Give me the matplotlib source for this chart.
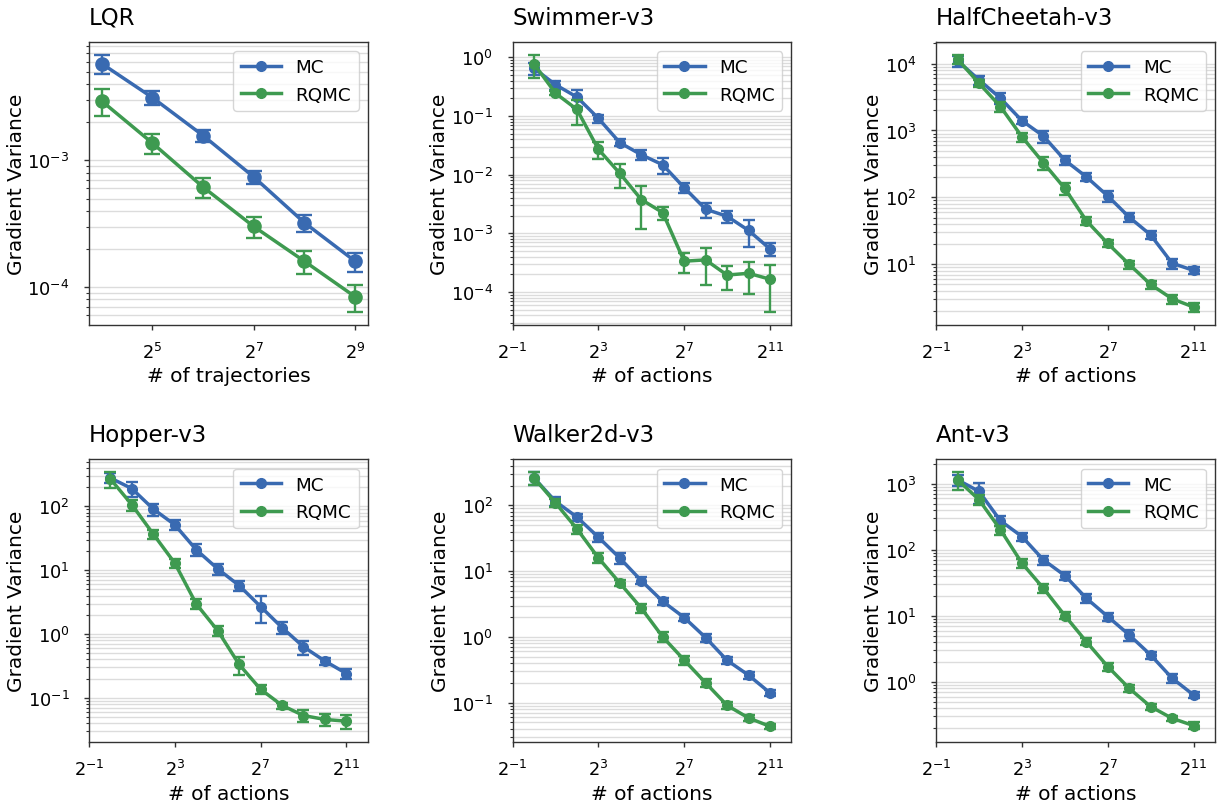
import matplotlib
matplotlib.use('Agg')
import matplotlib.pyplot as plt
from matplotlib.ticker import LogFormatterSciNotation, NullLocator, FixedLocator

plt.rcParams['axes.unicode_minus'] = False

blue = '#396ab1'
green = '#3e9a50'

# x values
lqr_x = [2 ** k for k in range(4, 10)]
act_x = [2 ** k for k in range(0, 12)]

# LQR
lqr_mc = [5.8e-3, 3.13e-3, 1.57e-3, 7.4e-4, 3.22e-4, 1.6e-4]
lqr_mc_err = [1.0e-3, 3.8e-4, 1.75e-4, 9.0e-5, 4.75e-5, 2.75e-5]
lqr_rq = [2.94e-3, 1.37e-3, 6.16e-4, 3.01e-4, 1.6e-4, 8.4e-5]
lqr_rq_err = [7.2e-4, 2.45e-4, 1.1e-4, 5.7e-5, 3.3e-5, 2.0e-5]

# Swimmer-v3
sw_mc = [0.65, 0.34, 0.21, 0.091, 0.035, 0.0218, 0.0147, 0.006, 0.00257, 0.00195, 0.00112, 5.42e-4]
sw_mc_err = [0.16, 0.06, 0.068, 0.0145, 0.0048, 0.0042, 0.0046, 0.0012, 0.00073, 0.00047, 0.00054, 1.4e-4]
sw_rq = [0.77, 0.244, 0.129, 0.027, 0.0105, 0.00376, 0.00225, 3.34e-4, 3.52e-4, 1.94e-4, 2.08e-4, 1.65e-4]
sw_rq_err = [0.33, 0.02, 0.058, 0.0089, 0.0045, 0.0026, 0.00057, 1.2e-4, 2.2e-4, 8.7e-5, 1.17e-4, 1.19e-4]

# HalfCheetah-v3
hc_mc = [1.1e4, 5.7e3, 3.03e3, 1.4e3, 826, 360, 203, 105, 50.7, 27.5, 10.4, 8.1]
hc_mc_err = [2100, 850, 575, 165, 168, 58, 30, 19, 8.2, 3.65, 1.8, 1.05]
hc_rq = [1.16e4, 5.07e3, 2.27e3, 805, 329, 136, 45, 20.5, 10, 5.0, 3.05, 2.3]
hc_rq_err = [1900, 600, 365, 124, 70, 26.5, 6.25, 2.6, 1.35, 0.675, 0.465, 0.345]

# Hopper-v3
hop_mc = [279, 190, 90.8, 51.5, 20.9, 10.5, 5.75, 2.69, 1.26, 0.63, 0.376, 0.24]
hop_mc_err = [50, 51, 19.5, 9.35, 4.4, 2.2, 0.95, 1.2, 0.255, 0.154, 0.0485, 0.044]
hop_rq = [269, 106, 36.7, 12.9, 2.96, 1.13, 0.333, 0.136, 0.076, 0.0527, 0.0457, 0.043]
hop_rq_err = [74, 20.6, 6, 2.1, 0.515, 0.215, 0.104, 0.0225, 0.0083, 0.0105, 0.0097, 0.0108]

# Walker2d-v3
wk_mc = [262, 115, 66.4, 32.8, 15.8, 7.17, 3.47, 1.97, 0.977, 0.44, 0.262, 0.141]
wk_mc_err = [57, 17, 8.55, 4.65, 2.95, 0.835, 0.455, 0.23, 0.145, 0.0515, 0.032, 0.0135]
wk_rq = [262, 109, 44, 15.9, 6.6, 2.74, 1.0, 0.445, 0.2, 0.091, 0.0585, 0.0436]
wk_rq_err = [55, 15, 6.9, 2.7, 0.75, 0.4, 0.175, 0.065, 0.0255, 0.0105, 0.0056, 0.0041]

# Ant-v3
ant_mc = [1148, 766, 275, 159, 70.5, 40.8, 18.5, 9.77, 5.15, 2.56, 1.14, 0.635]
ant_mc_err = [228, 278, 44.5, 21, 10.85, 6, 2.6, 1.4, 0.98, 0.3, 0.167, 0.074]
ant_rq = [1148, 573, 201, 62.8, 26.2, 10.1, 4.08, 1.71, 0.80, 0.423, 0.281, 0.218]
ant_rq_err = [346, 94.5, 31, 9.15, 3.65, 1.2, 0.52, 0.225, 0.093, 0.045, 0.0265, 0.0255]

panels = [
    ('LQR', lqr_x, lqr_mc, lqr_mc_err, lqr_rq, lqr_rq_err, '# of trajectories'),
    ('Swimmer-v3', act_x, sw_mc, sw_mc_err, sw_rq, sw_rq_err, '# of actions'),
    ('HalfCheetah-v3', act_x, hc_mc, hc_mc_err, hc_rq, hc_rq_err, '# of actions'),
    ('Hopper-v3', act_x, hop_mc, hop_mc_err, hop_rq, hop_rq_err, '# of actions'),
    ('Walker2d-v3', act_x, wk_mc, wk_mc_err, wk_rq, wk_rq_err, '# of actions'),
    ('Ant-v3', act_x, ant_mc, ant_mc_err, ant_rq, ant_rq_err, '# of actions'),
]

fig, axes = plt.subplots(2, 3, figsize=(12.19, 8.03), dpi=100)
plt.subplots_adjust(left=0.073, right=0.9967, bottom=0.0747, top=0.9465, wspace=0.519, hspace=0.477)

for ax, (title, x, mc, mc_err, rq, rq_err, xlabel) in zip(axes.flat, panels):
    is_lqr = title == 'LQR'
    for y, err, col, lab in [(mc, mc_err, blue, 'MC'), (rq, rq_err, green, 'RQMC')]:
        ax.plot(x, y, marker='o', color=col, lw=2.5, ms=7, label=lab)
        if is_lqr:
            ax.errorbar(x, y, yerr=err, fmt='o', ms=9.5, color=col, ecolor=col,
                        elinewidth=1.7, capsize=5.5, capthick=1.7)
        else:
            ax.errorbar(x, y, yerr=err, fmt='none', ecolor=col,
                        elinewidth=1.7, capsize=4.5, capthick=1.7)
    ax.set_yscale('log')
    ax.set_xscale('log', base=2)
    if is_lqr:
        ax.xaxis.set_major_locator(FixedLocator([2 ** 5, 2 ** 7, 2 ** 9]))
    else:
        ax.xaxis.set_major_locator(FixedLocator([2 ** -1, 2 ** 3, 2 ** 7, 2 ** 11]))
        ax.set_xlim(2 ** -1, 2 ** 12)
    ax.xaxis.set_major_formatter(LogFormatterSciNotation(base=2))
    ax.xaxis.set_minor_locator(NullLocator())
    ax.yaxis.grid(True, which='both', color='#dcdcdc', lw=1)
    ax.set_axisbelow(True)
    for s in ax.spines.values():
        s.set_color('#333333')
        s.set_linewidth(1.0)
    ax.tick_params(which='major', length=3.5, width=1, color='#333333', labelsize=12.8, pad=9)
    ax.tick_params(axis='y', which='major', pad=10.5)
    ax.tick_params(which='minor', length=2, width=0.8, color='#333333')
    ax.set_title(title, loc='left', fontsize=16.5, pad=13)
    ax.set_ylabel('Gradient Variance', fontsize=14.5, labelpad=1)
    ax.set_xlabel(xlabel, fontsize=14.5, labelpad=3)
    ax.legend(loc='upper right', fontsize=13.2, numpoints=1, handlelength=2.2)

fig.savefig('out.png', dpi=100)
